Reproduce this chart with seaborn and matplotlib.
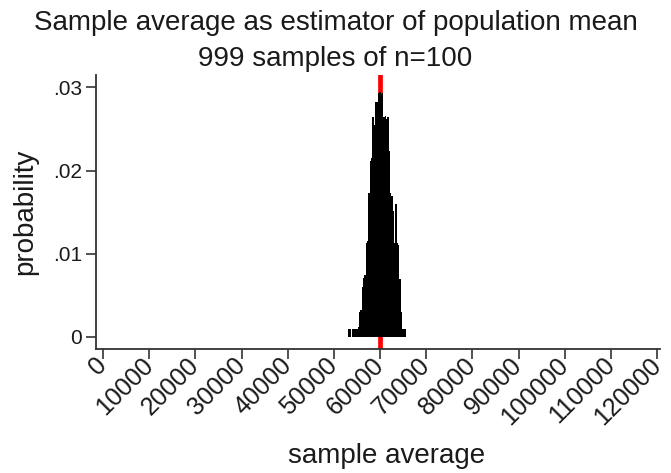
import numpy as np
import pandas as pd
import matplotlib
matplotlib.use("Agg")
import matplotlib.pyplot as plt
import seaborn as sns

# bin left edges (width 290) and the fraction
bin_width = 290
bin_left = [53150 + i * bin_width for i in range(43)]
fraction = [.001, .001, 0, .001, .001, .001, .001, .0012, .003, .0032,
            .006, .0071, .0075, .0113, .0115, .0173, .0212, .0215, .0264, .0255,
            .0282, .0283, .0293, .0294, .0292, .0293, .0264, .0266, .0262, .0264,
            .0224, .0173, .0170, .0152, .0113, .016, .0113, .0110, .007, .003,
            .001, .001, .001]
pop_mean = 60000

xticks = list(range(0, 120001, 10000))
yticks = [0, .01, .02, .03]
ytick_labels = ["0", ".01", ".02", ".03"]

df = pd.DataFrame({"center": [b + bin_width / 2 for b in bin_left], "frac": fraction})
edges = bin_left + [bin_left[-1] + bin_width]

sns.set_style("ticks")
plt.rcParams['font.family'] = ['Liberation Sans', 'DejaVu Sans']

W, H = 671, 473
fig = plt.figure(figsize=(W / 100, H / 100), dpi=100)
ax = fig.add_axes([96 / W, 1 - 349 / H, (660 - 96) / W, (349 - 75) / H])

ax.axvline(pop_mean, color="red", lw=3.4, zorder=1)
sns.histplot(data=df, x="center", weights="frac", bins=edges, stat="count",
             color="black", edgecolor="black", linewidth=0, alpha=1, ax=ax, zorder=2)

ax.set_xlim(-1520, 120650)
ax.set_ylim(-0.00145, 0.0315)
ax.set_xticks(xticks)
ax.set_xticklabels([str(t) for t in xticks], rotation=45, ha="right", va="center",
                   rotation_mode="anchor")
ax.set_yticks(yticks)
ax.set_yticklabels(ytick_labels)
ax.tick_params(axis="both", length=7, width=1.2, color="#333333", labelcolor="#1a1a1a")
ax.tick_params(axis="x", labelsize=18, pad=2)
ax.tick_params(axis="y", labelsize=15, pad=3)
for s in ["top", "right"]:
    ax.spines[s].set_visible(False)
for s in ["left", "bottom"]:
    ax.spines[s].set_color("#333333")
    ax.spines[s].set_linewidth(1.3)

ax.set_xlabel("")
ax.set_ylabel("")
fig.text(387 / W, 1 - 456 / H, "sample average", fontsize=20, ha="center", va="center",
         color="#1a1a1a")
fig.text(25 / W, 1 - 212 / H, "probability", fontsize=20, ha="center", va="center",
         rotation=90, color="#1a1a1a")
fig.text(0.5, 1 - 30 / H, "Sample average as estimator of population mean",
         fontsize=20, ha="center", va="baseline", color="#1a1a1a")
fig.text(0.5, 1 - 66 / H, "999 samples of n=100",
         fontsize=20, ha="center", va="baseline", color="#1a1a1a")

fig.savefig("out.png", dpi=100)
